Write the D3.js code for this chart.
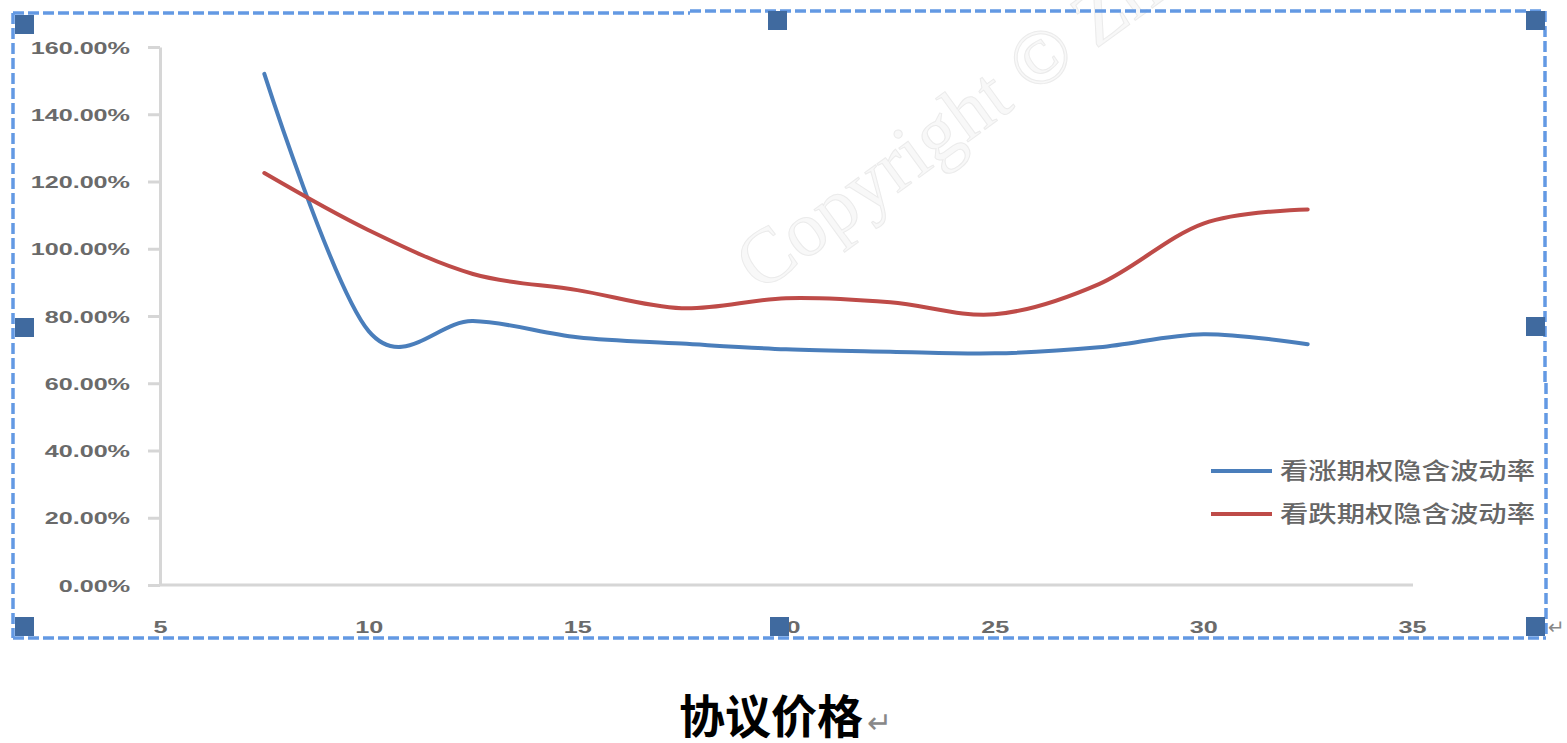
<!DOCTYPE html>
<html>
<head>
<meta charset="utf-8">
<script src="https://cdn.jsdelivr.net/npm/d3@7/dist/d3.min.js"></script>
<style>
  html, body { margin: 0; padding: 0; background: #fff; }
  svg { display: block; }
</style>
</head>
<body>
<svg id="chart" width="1567" height="743"></svg>
<script>
// Strike prices and implied volatilities of the call / put options
const strikes = [7.5, 10, 12.5, 15, 17.5, 20, 22.5, 25, 27.5, 30, 32.5];
const callIV  = [1.52, 0.755, 0.785, 0.737, 0.718, 0.701, 0.694, 0.689, 0.707, 0.746, 0.716];
const putIV   = [1.225, 1.055, 0.925, 0.877, 0.823, 0.853, 0.841, 0.805, 0.895, 1.075, 1.117];

const seriesNames = ["看涨期权隐含波动率", "看跌期权隐含波动率"];
const seriesColors = ["#4a7ebb", "#be4b48"];
const xTicks = [5, 10, 15, 20, 25, 30, 35];
const yTicks = [0, 0.2, 0.4, 0.6, 0.8, 1.0, 1.2, 1.4, 1.6];
const xTitle = "协议价格";

const svg = d3.select("#chart");
svg.append("rect").attr("width", 1567).attr("height", 743).attr("fill", "#fff");

const x = d3.scaleLinear().domain([5, 35]).range([160, 1412]);
const y = d3.scaleLinear().domain([0, 1.6]).range([585, 47]);

// faint diagonal watermark behind the plot
svg.append("text")
  .attr("transform", "translate(760,293) rotate(-36)")
  .attr("font-family", "Liberation Serif, DejaVu Serif, serif")
  .attr("font-size", 78)
  .attr("fill", "#f8f8f8")
  .attr("stroke", "#ebebeb")
  .attr("stroke-width", 1)
  .text("Copyright © Zhe");

// stretch a label horizontally, glyphs and spacing alike
function widen(sel, factor) {
  sel.each(function () {
    const w = this.getComputedTextLength();
    d3.select(this)
      .attr("textLength", w * factor)
      .attr("lengthAdjust", "spacingAndGlyphs");
  });
}

// y axis
const yAxis = svg.append("g")
  .attr("transform", "translate(160,0)")
  .call(d3.axisLeft(y).tickValues(yTicks).tickSize(12).tickSizeOuter(0)
        .tickFormat(d3.format(".2%")));
yAxis.select(".domain").attr("stroke", "#d6d6d6").attr("stroke-width", 3);
yAxis.selectAll(".tick line").attr("stroke", "#d6d6d6").attr("stroke-width", 3);
yAxis.selectAll(".tick text")
  .attr("x", -30)
  .attr("dy", "0.36em")
  .attr("font-family", "Liberation Sans, Arial, sans-serif")
  .attr("font-size", 17)
  .attr("font-weight", "bold")
  .attr("fill", "#6a6a6a")
  .call(widen, 1.48);

// x axis
const xAxis = svg.append("g")
  .attr("transform", "translate(0,585)")
  .call(d3.axisBottom(x).tickValues(xTicks).tickSize(0).tickSizeOuter(0));
xAxis.select(".domain").attr("stroke", "#d6d6d6").attr("stroke-width", 3)
  .attr("d", `M${x(5)},0H${x(35) + 1}`);
xAxis.selectAll(".tick text")
  .attr("y", 42)
  .attr("dy", "0.36em")
  .attr("font-family", "Liberation Sans, Arial, sans-serif")
  .attr("font-size", 17)
  .attr("font-weight", "bold")
  .attr("fill", "#6a6a6a")
  .call(widen, 1.48);

// smoothed series lines
const line = d3.line()
  .x((d, i) => x(strikes[i]))
  .y(d => y(d))
  .curve(d3.curveCardinal.tension(0));

[callIV, putIV].forEach((vals, i) => {
  svg.append("path")
    .datum(vals)
    .attr("d", line)
    .attr("fill", "none")
    .attr("stroke", seriesColors[i])
    .attr("stroke-width", 4)
    .attr("stroke-linejoin", "round")
    .attr("stroke-linecap", "round");
});

// legend
const legend = svg.append("g");
seriesNames.forEach((name, i) => {
  const ly = 471 + i * 43;
  legend.append("line")
    .attr("x1", 1211).attr("x2", 1272)
    .attr("y1", ly).attr("y2", ly)
    .attr("stroke", seriesColors[i]).attr("stroke-width", 4);
  legend.append("text")
    .attr("x", 1280).attr("y", ly)
    .attr("dy", "0.36em")
    .attr("font-family", "Noto Sans CJK SC, sans-serif")
    .attr("font-size", 23)
    .attr("font-weight", 500)
    .attr("fill", "#666")
    .attr("textLength", 255)
    .attr("lengthAdjust", "spacingAndGlyphs")
    .text(name);
});

// dashed selection frame with handles
const frameColor = "#6399e3";
const frame = [
  [13, 13, 690, 13], [690, 11, 1545, 11],
  [13, 13, 13, 638], [13, 638, 1546, 638],
  [1545, 11, 1545, 383], [1546, 383, 1546, 636]
];
svg.append("g").selectAll("line").data(frame).join("line")
  .attr("x1", d => d[0]).attr("y1", d => d[1])
  .attr("x2", d => d[2]).attr("y2", d => d[3])
  .attr("stroke", frameColor)
  .attr("stroke-width", 3.5)
  .attr("stroke-dasharray", "11 4");

const handles = [
  [15, 15], [768, 11], [1526, 11],
  [15, 318], [1526, 317],
  [15, 617], [770, 617], [1526, 617]
];
svg.append("g").selectAll("rect").data(handles).join("rect")
  .attr("x", d => d[0]).attr("y", d => d[1])
  .attr("width", 19).attr("height", 19)
  .attr("fill", "#406a9f");

// paragraph mark at the frame corner
svg.append("text")
  .attr("x", 1548).attr("y", 627).attr("dy", "0.35em")
  .attr("font-family", "DejaVu Sans, sans-serif")
  .attr("font-size", 20)
  .attr("fill", "#888")
  .text("↵");

// axis title under the chart
const title = svg.append("text")
  .attr("x", 679).attr("y", 716).attr("dy", "0.36em")
  .attr("font-family", "Noto Sans CJK SC, sans-serif")
  .attr("font-weight", "bold")
  .attr("font-size", 46)
  .attr("fill", "#000");
title.append("tspan").text(xTitle);
title.append("tspan")
  .attr("font-weight", "normal")
  .attr("font-size", 30)
  .attr("fill", "#888")
  .attr("dx", 4)
  .text("↵");
</script>
</body>
</html>
